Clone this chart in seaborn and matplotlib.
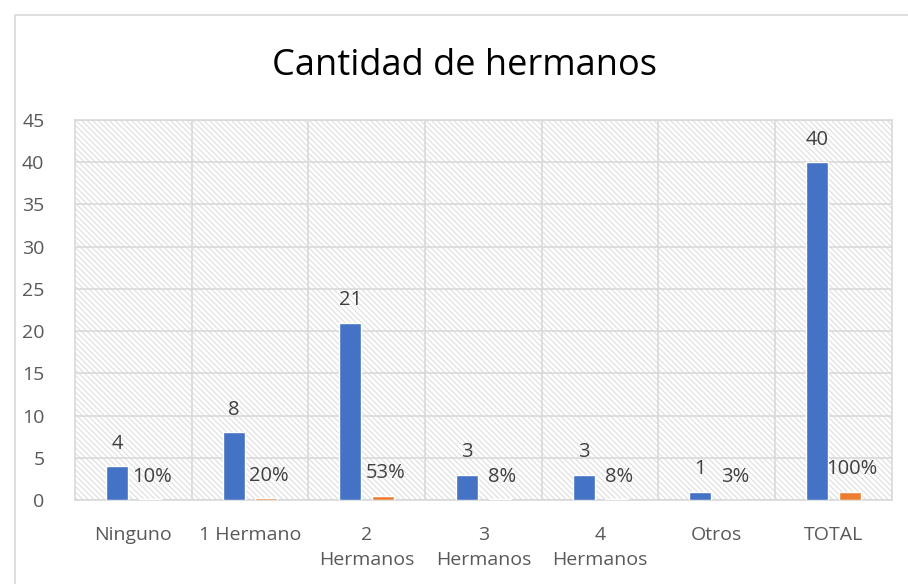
import numpy as np
import pandas as pd
import matplotlib.pyplot as plt
import seaborn as sns
from matplotlib.patches import Rectangle

# datos del grafico
categorias = ['Ninguno', '1 Hermano', '2\nHermanos', '3\nHermanos', '4\nHermanos', 'Otros', 'TOTAL']
cantidad = [4, 8, 21, 3, 3, 1, 40]
porcentaje = [0.10, 0.20, 0.53, 0.08, 0.08, 0.03, 1.00]
etiquetas_pct = ['10%', '20%', '53%', '8%', '8%', '3%', '100%']

df = pd.DataFrame({
    'categoria': categorias * 2,
    'serie': ['Cantidad'] * len(categorias) + ['Porcentaje'] * len(categorias),
    'valor': cantidad + porcentaje,
})

sns.set_style("white")
plt.rcParams['font.family'] = ['Open Sans', 'DejaVu Sans']
plt.rcParams['hatch.linewidth'] = 0.8

fig = plt.figure(figsize=(9.08, 5.84), dpi=100)
fig.patches.append(Rectangle((0.016, -0.01), 0.99, 0.985, transform=fig.transFigure,
                             fill=False, edgecolor='#d9d9d9', linewidth=1.2))
ax = fig.add_axes([0.0826, 0.1438, 0.8994, 0.6507])

# fondo rayado
ax.add_patch(Rectangle((0, 0), 1, 1, transform=ax.transAxes, facecolor='white',
                       hatch='\\\\\\\\\\\\', edgecolor='#dedede', linewidth=0, zorder=0))

sns.barplot(data=df, x='categoria', y='valor', hue='serie', order=categorias,
            palette={'Cantidad': '#4472C4', 'Porcentaje': '#ED7D31'}, saturation=1,
            width=0.56, gap=0.32, legend=False, ax=ax, zorder=3)

ax.set_ylim(0, 45)
ax.set_xlim(-0.5, 6.5)
ax.set_yticks(range(0, 46, 5))
ax.set_xticks(range(len(categorias)))
ax.set_xticklabels(categorias, linespacing=1.45)
ax.set_xticks(np.arange(0.5, 6.5, 1), minor=True)
ax.grid(axis='y', which='major', color='#d9d9d9', linewidth=1.2, zorder=1)
ax.grid(axis='x', which='minor', color='#d9d9d9', linewidth=1.2, zorder=1)
ax.grid(axis='x', which='major', visible=False)
ax.tick_params(axis='both', which='both', length=0, labelsize=14, colors='#595959')
ax.tick_params(axis='x', pad=19)
ax.tick_params(axis='y', pad=22)
for s in ax.spines.values():
    s.set_color('#d9d9d9')
    s.set_linewidth(1.2)
ax.set_xlabel('')
ax.set_ylabel('')

# etiquetas de datos
for i, (c, p, t) in enumerate(zip(cantidad, porcentaje, etiquetas_pct)):
    ax.text(i - 0.14, c + 1.5, str(c), ha='center', va='bottom', fontsize=14.5, color='#404040', zorder=5)
    ax.text(i + 0.16, p + 1.5, t, ha='center', va='bottom', fontsize=14.5, color='#404040', zorder=5)

fig.text(0.512, 0.887, 'Cantidad de hermanos', ha='center', va='center', fontsize=26, color='black')

plt.savefig('out.png', dpi=100)
